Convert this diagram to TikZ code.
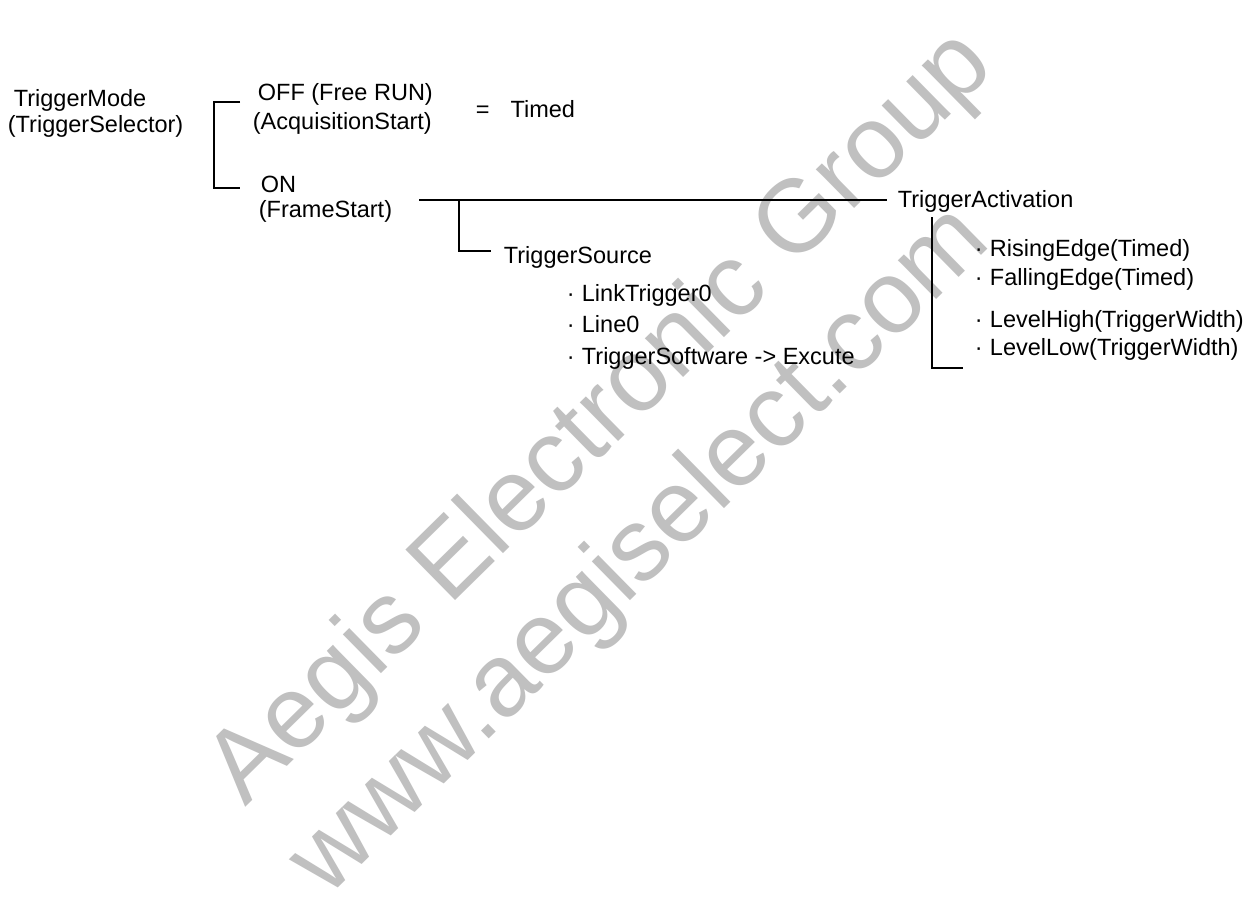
\documentclass[tikz,border=0pt]{standalone}
\usepackage{fontspec}
\setmainfont{Liberation Sans}
\usetikzlibrary{positioning}
\definecolor{wmgray}{RGB}{192,192,192}
\newcommand{\dotitem}{·\hspace{3.6pt}}

\begin{document}
\begin{tikzpicture}[x=0.5pt, y=-0.5pt, line width=0.9pt,
  font=\fontsize{11.75}{14}\selectfont,
  t/.style={anchor=base west, inner sep=0pt},
  wm/.style={t, text=wmgray, rotate=44.5, font=\fontsize{51.5}{60}\selectfont}]
\fill[white] (0,0) rectangle (1256,900);
% watermark
\node[wm] (wma) at (245,808) {Aegis Electronic Group};
\node[wm] (wmb) at (327,899) {www.aegiselect.com};
% trigger mode
\node[t] (mode) at (13,106) {TriggerMode};
\node[t] (sel) at (7,132) {(TriggerSelector)};
\node[t] (off) at (257,100) {OFF (Free RUN)};
\node[t] (acq) at (252,129) {(AcquisitionStart)};
\node[t] (timed) at (475,117) {=\hspace{10.5pt}Timed};
\node[t] (on) at (260,192) {ON};
\node[t] (frame) at (258,217) {(FrameStart)};
% trigger source
\node[t] (src) at (503,263) {TriggerSource};
\node[t] (lt) at (566,301) {\dotitem LinkTrigger0};
\node[t] (ln) at (566,332) {\dotitem Line0};
\node[t] (sw) at (566,364) {\dotitem TriggerSoftware -> Excute};
% trigger activation
\node[t] (act) at (897,207) {TriggerActivation};
\node[t] (rise) at (974,256) {\dotitem RisingEdge(Timed)};
\node[t] (fall) at (974,285) {\dotitem FallingEdge(Timed)};
\node[t] (lhigh) at (974,327) {\dotitem LevelHigh(TriggerWidth)};
\node[t] (llow) at (974,355) {\dotitem LevelLow(TriggerWidth)};
% branches
\coordinate (offtick) at (240,102);
\coordinate (ontick) at (240,188);
\coordinate (onend) at (419,200);
\coordinate (srcjoin) at (459,200);
\coordinate (srcin) at (491,251);
\coordinate (acttop) at (932,217);
\coordinate (actend) at (963,368);
\draw (offtick) -- ++(-26,0) |- (ontick);
\draw[shorten >=5pt] (onend) -- (onend -| act.west);
\draw (srcjoin) |- (srcin);
\draw (acttop) |- (actend);
\end{tikzpicture}
\end{document}
